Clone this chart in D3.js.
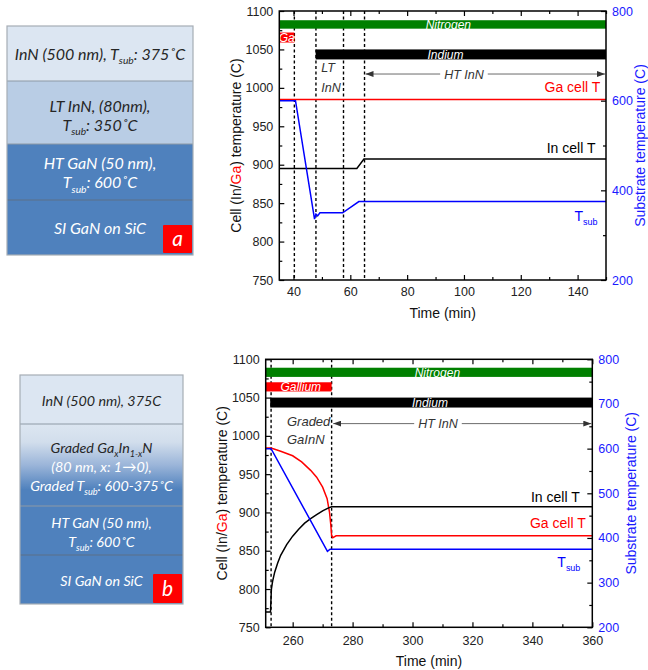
<!DOCTYPE html>
<html><head><meta charset="utf-8">
<script src="https://cdn.jsdelivr.net/npm/d3@7"></script>
<style>body{margin:0;background:#fff}svg{display:block}</style>
</head><body>
<script>
// ---------------- DATA ----------------
const leftDomain = [750, 1100];
const rightDomain = [200, 800];
const leftTicks = [750, 800, 850, 900, 950, 1000, 1050, 1100];
const leftMinor = [775, 825, 875, 925, 975, 1025, 1075];

// chart (a)
const aXDomain = [35, 150];
const aXTicks = [40, 60, 80, 100, 120, 140];
const aXMinor = [50, 70, 90, 110, 130, 150];
const aRightTicks = [200, 400, 600, 800];
const aRightMinor = [300, 500, 700];
const aInCellT = [[35, 895], [62.3, 895], [64.8, 907.5], [150, 907.5]];
const aGaCellT = [[35, 985], [150, 985]];
const aTsub = [[35, 600], [40.7, 600], [47.4, 336], [47.9, 347], [48.5, 343], [49.3, 350], [57.3, 350], [63, 375], [150, 375]];
const aDashes = [40.3, 47.9, 57.6, 65];
const aBars = [
  {name: "Nitrogen", t0: 35, t1: 150, lo: 1077, hi: 1088, labelT: 94.5},
  {name: "Ga", t0: 35, t1: 40.3, lo: 1059, hi: 1072, labelT: 37.6},
  {name: "Indium", t0: 47.8, t1: 150, lo: 1037, hi: 1050, labelT: 93.5}
];
const aArrow = {label: "HT InN", t0: 65, t1: 150, labelT: 100, v: 1018};
const aPhaseLabels = [{text: "LT", t: 49.8, v: 1026}, {text: "InN", t: 49.8, v: 1000}];
const aSeriesLabels = [
  {text: "Ga cell T", t: 148, v: 1001, series: "ga"},
  {text: "In cell T", t: 146.3, v: 922, series: "in"},
  {text: "T_{sub}", t: 147, v: 833, series: "sub"}
];

// chart (b)
const bXDomain = [251, 360];
const bXTicks = [260, 280, 300, 320, 340, 360];
const bXMinor = [270, 290, 310, 330, 350];
const bRightTicks = [200, 300, 400, 500, 600, 700, 800];
const bRightMinor = [250, 350, 450, 550, 650, 750];
const bInCellT = [[251, 770], [252.6, 770], [252.9, 800], [253.3, 810], [254, 822], [255, 834], [256, 844], [258, 858], [260, 869], [262, 878], [264, 886], [266, 892], [268, 897], [270, 902], [272, 906], [273, 907.5], [360, 907.5]];
const bGaCellT = [[251, 984], [252.8, 984], [256, 980], [260, 974], [263, 966], [266, 955], [268, 946], [270, 933], [271.5, 918], [272.3, 900], [272.7, 885], [273, 870], [273.4, 867], [274.5, 869.5], [360, 869.5]];
const bTsub = [[251, 600], [252.8, 600], [271.6, 370], [272.5, 375], [360, 375]];
const bDashes = [252.8, 273];
const bBars = [
  {name: "Nitrogen", t0: 251, t1: 360, lo: 1077, hi: 1089, labelT: 308.3},
  {name: "Gallium", t0: 251, t1: 273, lo: 1058, hi: 1070, labelT: 262.7},
  {name: "Indium", t0: 252.5, t1: 360, lo: 1037, hi: 1050, labelT: 305.8}
];
const bArrow = {label: "HT InN", t0: 273.2, t1: 360, labelT: 308.5, v: 1016};
const bPhaseLabels = [{text: "Graded", t: 258.1, v: 1019}, {text: "GaInN", t: 258.1, v: 996}];
const bSeriesLabels = [
  {text: "In cell T", t: 355.8, v: 920.6, series: "in"},
  {text: "Ga cell T", t: 357.8, v: 886.3, series: "ga"},
  {text: "T_{sub}", t: 356, v: 835.7, series: "sub"}
];

// schematics
const panelALayerText = [
  ["InN (500 nm), T_{sub}: 375˚C"],
  ["LT InN, (80nm),", "T_{sub}: 350˚C"],
  ["HT GaN (50 nm),", "T_{sub}: 600˚C"],
  ["SI GaN on SiC"]
];
const panelBLayerText = [
  ["InN (500 nm), 375C"],
  ["Graded Ga_{x}In_{1-x}N", "(80 nm, x: 1→0),", "Graded T_{sub}: 600-375˚C"],
  ["HT GaN (50 nm),", " T_{sub}: 600˚C"],
  ["SI GaN on SiC"]
];

// ---------------- STYLE ----------------
const FONT = "'Liberation Sans', Arial, sans-serif";
const PFONT = "Lato, 'Open Sans', sans-serif";
const barColors = {Nitrogen: "#008000", Ga: "#ff0000", Gallium: "#ff0000", Indium: "#000000"};
const seriesColors = {in: "#000000", ga: "#ff0000", sub: "#0000ff"};
const DARK = "#262626";

const svg = d3.select("body").append("svg").attr("width", 648).attr("height", 670);
svg.append("rect").attr("width", 648).attr("height", 670).attr("fill", "#fff");
const defs = svg.append("defs");
defs.append("marker").attr("id", "arrowHead").attr("viewBox", "0 0 8 6")
  .attr("refX", 8).attr("refY", 3).attr("markerWidth", 8).attr("markerHeight", 6)
  .attr("markerUnits", "userSpaceOnUse").attr("orient", "auto-start-reverse")
  .append("path").attr("d", "M0,0L8,3L0,6Z").attr("fill", "#333");
const grad = defs.append("linearGradient").attr("id", "gradLayer").attr("x1", 0).attr("x2", 0).attr("y1", 0).attr("y2", 1);
[[0, "#dce6f1"], [0.22, "#d2deec"], [0.5, "#9bb5d9"], [0.8, "#4f81bd"], [1, "#4f81bd"]].forEach(s =>
  grad.append("stop").attr("offset", s[0]).attr("stop-color", s[1]));

function addRich(sel, str, fs) {
  const parts = str.split(/(_\{[^}]*\})/);
  let wasSub = false;
  parts.forEach(p => {
    if (!p) return;
    if (p.startsWith("_{")) {
      sel.append("tspan").text(p.slice(2, -1)).attr("font-size", fs * 0.64).attr("dy", fs * 0.28);
      wasSub = true;
    } else {
      const t = sel.append("tspan").text(p);
      if (wasSub) { t.attr("dy", -fs * 0.28); wasSub = false; }
    }
  });
}

// ---------------- SCHEMATICS ----------------
function drawPanel(x0, x1, bounds, texts, colorsFn, fills, letter, lbox, fs, yOff) {
  const g = svg.append("g");
  for (let i = 0; i < 4; i++) {
    g.append("rect").attr("x", x0).attr("y", bounds[i]).attr("width", x1 - x0)
      .attr("height", bounds[i + 1] - bounds[i]).attr("fill", fills[i]);
  }
  for (let i = 1; i < 4; i++) {
    g.append("line").attr("x1", x0).attr("x2", x1).attr("y1", bounds[i]).attr("y2", bounds[i])
      .attr("stroke", i === 3 ? "#5d7188" : "#8d99a6").attr("stroke-width", 1.2);
  }
  g.append("rect").attr("x", x0).attr("y", bounds[0]).attr("width", x1 - x0)
    .attr("height", bounds[4] - bounds[0]).attr("fill", "none").attr("stroke", "#a6adb5").attr("stroke-width", 1.2);
  const cx = (x0 + x1) / 2;
  texts.forEach((lines, i) => {
    const mid = (bounds[i] + bounds[i + 1]) / 2 + yOff[i];
    lines.forEach((ln, j) => {
      const yc = mid + (j - (lines.length - 1) / 2) * 19;
      const t = g.append("text").attr("x", cx).attr("y", yc).attr("dy", "0.35em")
        .attr("text-anchor", "middle").attr("font-family", PFONT).attr("font-style", "italic")
        .attr("font-size", fs).attr("fill", colorsFn(i, j));
      addRich(t, ln, fs);
    });
  });
  g.append("rect").attr("x", lbox[0]).attr("y", lbox[1]).attr("width", lbox[2]).attr("height", lbox[3])
    .attr("fill", "#ff0000").attr("rx", 1);
  g.append("text").attr("x", lbox[0] + lbox[2] / 2).attr("y", lbox[1] + lbox[3] / 2).attr("dy", "0.35em")
    .attr("text-anchor", "middle").attr("font-family", PFONT).attr("font-style", "italic")
    .attr("font-size", 21).attr("fill", "#fff").text(letter);
}
drawPanel(7, 193, [26, 81, 144, 200, 255], panelALayerText,
  (i) => i < 2 ? DARK : "#fff", ["#dce6f2", "#b9cde5", "#4f81bd", "#4f81bd"], "a", [163, 225, 29, 28], 16, [0.5, 3, 1, 0.5]);
drawPanel(20, 183, [375, 424, 506, 555, 604], panelBLayerText,
  (i, j) => (i === 0 || (i === 1 && j === 0)) ? DARK : "#fff", ["#dce6f2", "url(#gradLayer)", "#4f81bd", "#4f81bd"], "b", [153, 574, 29, 29], 14.3, [1.5, 1.5, 1.5, 1.5]);

// ---------------- CHARTS ----------------
function drawChart(c) {
  const x = d3.scaleLinear().domain(c.xDomain).range([c.left, c.right]);
  const yL = d3.scaleLinear().domain(leftDomain).range([c.bottom, c.top]);
  const yR = d3.scaleLinear().domain(rightDomain).range([c.bottom, c.top]);
  const g = svg.append("g");
  const clipId = "clip" + c.id;
  defs.append("clipPath").attr("id", clipId).append("rect").attr("x", c.left).attr("y", c.top)
    .attr("width", c.right - c.left).attr("height", c.bottom - c.top);
  const pg = g.append("g").attr("clip-path", `url(#${clipId})`);

  pg.selectAll(".dash").data(c.dashes).join("line")
    .attr("x1", d => x(d)).attr("x2", d => x(d)).attr("y1", c.top).attr("y2", c.bottom)
    .attr("stroke", "#000").attr("stroke-width", 1.4).attr("stroke-dasharray", "3,2.5");

  pg.selectAll(".bar").data(c.bars).join("rect")
    .attr("x", d => x(d.t0)).attr("width", d => x(d.t1) - x(d.t0))
    .attr("y", d => yL(d.hi)).attr("height", d => yL(d.lo) - yL(d.hi))
    .attr("fill", d => barColors[d.name]);
  pg.selectAll(".barlabel").data(c.bars).join("text")
    .attr("x", d => x(d.labelT)).attr("y", d => yL((d.lo + d.hi) / 2)).attr("dy", "0.36em")
    .attr("text-anchor", "middle").attr("fill", "#fff").attr("font-family", FONT)
    .attr("font-style", "italic").attr("font-size", 12).text(d => d.name);

  // arrow
  const a = c.arrow;
  const at = pg.append("text").attr("x", x(a.labelT)).attr("y", yL(a.v)).attr("dy", "0.36em")
    .attr("text-anchor", "middle").attr("font-family", FONT).attr("font-style", "italic")
    .attr("font-size", 12.5).attr("fill", "#333").text(a.label);
  const tw = at.node().getComputedTextLength();
  pg.append("line").attr("x1", x(a.labelT) - tw / 2 - 4).attr("x2", x(a.t0) + 1)
    .attr("y1", yL(a.v)).attr("y2", yL(a.v)).attr("stroke", "#444").attr("stroke-width", 0.8)
    .attr("marker-end", "url(#arrowHead)");
  pg.append("line").attr("x1", x(a.labelT) + tw / 2 + 4).attr("x2", x(a.t1) - 1)
    .attr("y1", yL(a.v)).attr("y2", yL(a.v)).attr("stroke", "#444").attr("stroke-width", 0.8)
    .attr("marker-end", "url(#arrowHead)");

  pg.selectAll(".phase").data(c.phases).join("text")
    .attr("x", d => x(d.t)).attr("y", d => yL(d.v)).attr("dy", "0.36em")
    .attr("font-family", FONT).attr("font-style", "italic").attr("font-size", c.phaseSize)
    .attr("fill", "#333").text(d => d.text);

  const lineL = d3.line().x(d => x(d[0])).y(d => yL(d[1]));
  const lineR = d3.line().x(d => x(d[0])).y(d => yR(d[1]));
  pg.append("path").attr("d", lineL(c.ga)).attr("fill", "none").attr("stroke", seriesColors.ga).attr("stroke-width", 1.5);
  pg.append("path").attr("d", lineL(c.inc)).attr("fill", "none").attr("stroke", seriesColors.in).attr("stroke-width", 1.5);
  pg.append("path").attr("d", lineR(c.sub)).attr("fill", "none").attr("stroke", seriesColors.sub).attr("stroke-width", 1.5);

  c.labels.forEach(l => {
    const t = g.append("text").attr("x", x(l.t)).attr("y", yL(l.v)).attr("dy", "0.36em")
      .attr("text-anchor", "end").attr("font-family", FONT).attr("font-size", 14)
      .attr("fill", seriesColors[l.series]);
    addRich(t, l.text, 14);
  });

  // axes
  const styleAxis = (s, col) => {
    s.select(".domain").remove();
    s.selectAll("line").attr("stroke", "#000").attr("stroke-width", 1.2);
    s.selectAll("text").attr("font-family", FONT).attr("font-size", 12.5).attr("fill", col || "#222");
    s.attr("font-family", null).attr("font-size", null);
  };
  g.append("g").attr("transform", `translate(0,${c.bottom})`)
    .call(d3.axisBottom(x).tickValues(c.xTicks).tickSize(-5).tickPadding(c.xPad).tickFormat(d3.format("d"))).call(s => styleAxis(s));
  g.append("g").attr("transform", `translate(0,${c.bottom})`)
    .call(d3.axisBottom(x).tickValues(c.xMinor).tickSize(-3).tickFormat("")).call(s => styleAxis(s));
  g.append("g").attr("transform", `translate(0,${c.top})`)
    .call(d3.axisTop(x).tickValues(c.xTicks).tickSize(-5).tickFormat("")).call(s => styleAxis(s));
  g.append("g").attr("transform", `translate(0,${c.top})`)
    .call(d3.axisTop(x).tickValues(c.xMinor).tickSize(-3).tickFormat("")).call(s => styleAxis(s));
  g.append("g").attr("transform", `translate(${c.left},0)`)
    .call(d3.axisLeft(yL).tickValues(leftTicks).tickSize(-5).tickPadding(6).tickFormat(d3.format("d"))).call(s => styleAxis(s));
  g.append("g").attr("transform", `translate(${c.left},0)`)
    .call(d3.axisLeft(yL).tickValues(leftMinor).tickSize(-3).tickFormat("")).call(s => styleAxis(s));
  g.append("g").attr("transform", `translate(${c.right},0)`)
    .call(d3.axisRight(yR).tickValues(c.rTicks).tickSize(-5).tickPadding(6).tickFormat(d3.format("d"))).call(s => styleAxis(s, "#1a1aff"));
  g.append("g").attr("transform", `translate(${c.right},0)`)
    .call(d3.axisRight(yR).tickValues(c.rMinor).tickSize(-3).tickFormat("")).call(s => styleAxis(s));

  g.append("rect").attr("x", c.left).attr("y", c.top).attr("width", c.right - c.left)
    .attr("height", c.bottom - c.top).attr("fill", "none").attr("stroke", "#000").attr("stroke-width", 1.5);

  // titles
  g.append("text").attr("x", (c.left + c.right) / 2).attr("y", c.xTitleY).attr("text-anchor", "middle")
    .attr("font-family", FONT).attr("font-size", 14).attr("fill", "#111").text("Time (min)");
  const lt = g.append("text").attr("transform", `translate(${c.lTitleX},${(c.top + c.bottom) / 2}) rotate(-90)`)
    .attr("text-anchor", "middle").attr("font-family", FONT).attr("font-size", 14).attr("fill", "#111");
  lt.append("tspan").text("Cell (In/");
  lt.append("tspan").text("Ga").attr("fill", "#ff0000");
  lt.append("tspan").text(") temperature (C)");
  g.append("text").attr("transform", `translate(${c.rTitleX},${(c.top + c.bottom) / 2}) rotate(-90)`)
    .attr("text-anchor", "middle").attr("font-family", FONT).attr("font-size", 14).attr("fill", "#1a1aff")
    .text("Substrate temperature (C)");
}

drawChart({
  id: "a", xDomain: aXDomain, left: 279.3, right: 606, top: 11, bottom: 280,
  xTicks: aXTicks, xMinor: aXMinor, rTicks: aRightTicks, rMinor: aRightMinor, xPad: 7.5,
  dashes: aDashes, bars: aBars, arrow: aArrow, phases: aPhaseLabels, phaseSize: 12.5,
  ga: aGaCellT, inc: aInCellT, sub: aTsub, labels: aSeriesLabels,
  xTitleY: 318, lTitleX: 241, rTitleX: 645
});
drawChart({
  id: "b", xDomain: bXDomain, left: 265.7, right: 592.3, top: 359.3, bottom: 627.3,
  xTicks: bXTicks, xMinor: bXMinor, rTicks: bRightTicks, rMinor: bRightMinor, xPad: 8.5,
  dashes: bDashes, bars: bBars, arrow: bArrow, phases: bPhaseLabels, phaseSize: 13,
  ga: bGaCellT, inc: bInCellT, sub: bTsub, labels: bSeriesLabels,
  xTitleY: 666, lTitleX: 227, rTitleX: 636
});
</script>
</body></html>
